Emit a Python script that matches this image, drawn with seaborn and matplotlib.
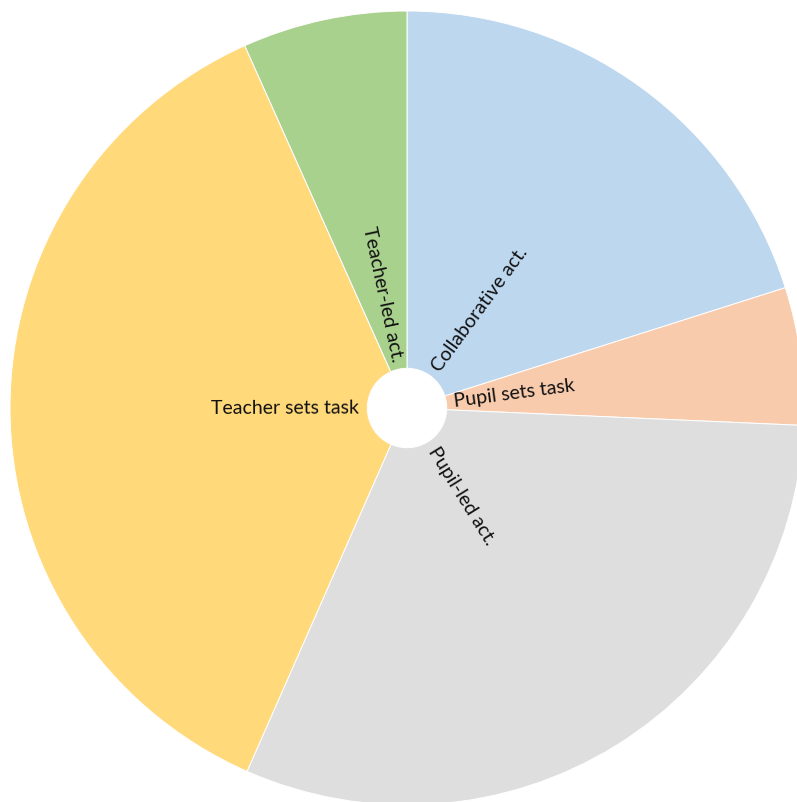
import matplotlib
matplotlib.use("Agg")
import matplotlib.pyplot as plt
import seaborn as sns
import numpy as np

categories = ["Collaborative act.", "Pupil sets task", "Pupil-led act.", "Teacher sets task", "Teacher-led act."]
values = [20.1, 5.6, 30.9, 36.7, 6.7]
colors = ["#bdd7ee", "#f8cbad", "#dedede", "#ffd97a", "#a9d18e"]

sns.set_style("white")
plt.rcParams['font.family'] = ['Lato', 'DejaVu Sans']

palette = sns.color_palette(colors)

fig = plt.figure(figsize=(7.97, 8.02), dpi=100)
ax = fig.add_axes([0, 0, 1, 1])
wedges, _ = ax.pie(values, colors=palette, startangle=90, counterclock=False,
                   radius=1.0, wedgeprops=dict(width=0.9, edgecolor="white", linewidth=0.7))

r_lab = 0.12
for w, lab in zip(wedges, categories):
    mid = (w.theta1 + w.theta2) / 2.0
    mid = (mid + 180) % 360 - 180
    x = r_lab * np.cos(np.radians(mid))
    y = r_lab * np.sin(np.radians(mid))
    if -90 <= mid <= 90:
        rot, ha = mid, "left"
    else:
        rot, ha = mid - 180 if mid > 0 else mid + 180, "right"
    ax.text(x, y, lab, rotation=rot, rotation_mode="anchor", ha=ha, va="center",
            fontsize=14, color="#111111")

cx, cy, R = 407, 408, 397
ax.set_xlim((0 - cx) / R, (797 - cx) / R)
ax.set_ylim(-(802 - cy) / R, cy / R)
ax.set_aspect("auto")
ax.axis("off")
fig.savefig("out.png", dpi=100, facecolor="white")
